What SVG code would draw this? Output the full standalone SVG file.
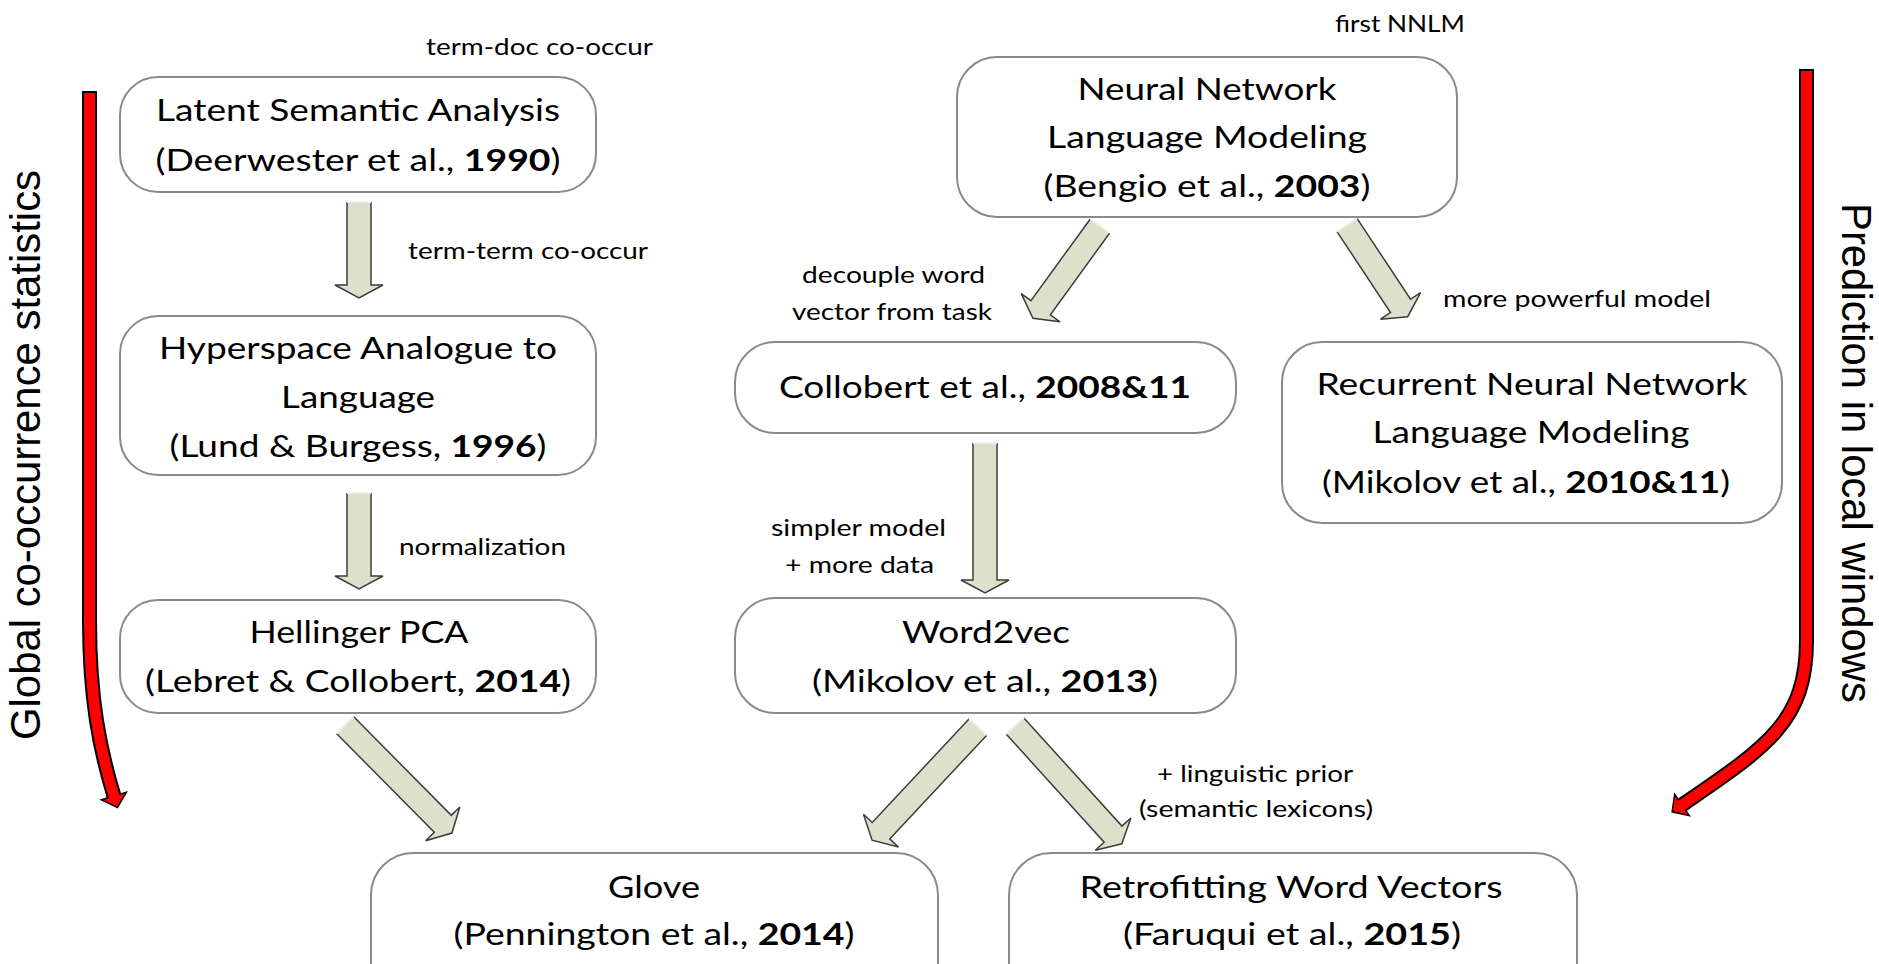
<svg xmlns="http://www.w3.org/2000/svg" width="1879" height="964" viewBox="0 0 1879 964">
  <style>
    .box { fill: #ffffff; stroke: #8a8a8a; stroke-width: 2; }
    .n { font-family: Lato, "Liberation Sans", sans-serif; font-size: 31px; fill: #000; text-anchor: middle; }
    .b { font-weight: 700; }
    .lbl { font-family: Lato, "Liberation Sans", sans-serif; font-size: 24px; fill: #000; }
    .side { font-family: "Liberation Sans", Arial, sans-serif; font-size: 42px; fill: #000; text-anchor: middle; }
    .afill { fill: #dde0cb; }
    .aedge { fill: none; stroke: #3c3c3c; stroke-width: 1.5; stroke-linejoin: miter; }
    .atail { fill: none; stroke: #eef0e4; stroke-width: 2; }
    .rout { fill: none; stroke: #000; stroke-width: 15; }
    .rin { fill: none; stroke: #ff0000; stroke-width: 11; }
    .rhead { fill: #ff0000; stroke: #000; stroke-width: 1.5; stroke-linejoin: miter; }
  </style>

  <!-- side captions -->
  <text class="side" transform="translate(40,455) rotate(-90)" textLength="570" lengthAdjust="spacingAndGlyphs">Global co-occurrence statistics</text>
  <text class="side" transform="translate(1842,453) rotate(90)" textLength="500" lengthAdjust="spacingAndGlyphs">Prediction in local windows</text>

  <!-- red trend arrows -->
  <g id="trend-left">
    <path class="rout" d="M89.5,91 V620 C89.5,700 100,750 114,796"/>
    <polygon class="rhead" points="101.6,799.8 126.4,792.2 117.5,807.5"/>
    <path class="rin" d="M89.5,93 V620 C89.5,700 100,750 114,796 L114.9,798.9"/>
  </g>
  <g id="trend-right">
    <path class="rout" d="M1806.5,69 V640 C1806.5,720 1770,745 1682,805"/>
    <polygon class="rhead" points="1689.3,815.7 1674.7,794.3 1672.1,811.8"/>
    <path class="rin" d="M1806.5,71 V640 C1806.5,720 1770,745 1682,805 L1679.5,806.7"/>
  </g>

  <!-- nodes -->
  <g id="lsa">
    <rect class="box" x="120" y="77" width="476" height="115" rx="38"/>
    <text class="n" x="358" y="121" textLength="404" lengthAdjust="spacingAndGlyphs">Latent Semantic Analysis</text>
    <text class="n" x="358" y="171" textLength="405" lengthAdjust="spacingAndGlyphs">(Deerwester et al., <tspan class="b">1990</tspan>)</text>
  </g>
  <g id="hal">
    <rect class="box" x="120" y="316" width="476" height="159" rx="38"/>
    <text class="n" x="358" y="359" textLength="398" lengthAdjust="spacingAndGlyphs">Hyperspace Analogue to</text>
    <text class="n" x="358" y="408" textLength="154" lengthAdjust="spacingAndGlyphs">Language</text>
    <text class="n" x="358" y="457" textLength="377" lengthAdjust="spacingAndGlyphs">(Lund &amp; Burgess, <tspan class="b">1996</tspan>)</text>
  </g>
  <g id="hellinger">
    <rect class="box" x="120" y="600" width="476" height="113" rx="38"/>
    <text class="n" x="359" y="643" textLength="219" lengthAdjust="spacingAndGlyphs">Hellinger PCA</text>
    <text class="n" x="358" y="692" textLength="426" lengthAdjust="spacingAndGlyphs">(Lebret &amp; Collobert, <tspan class="b">2014</tspan>)</text>
  </g>
  <g id="nnlm">
    <rect class="box" x="957" y="57" width="500" height="160" rx="40"/>
    <text class="n" x="1207" y="100" textLength="259" lengthAdjust="spacingAndGlyphs">Neural Network</text>
    <text class="n" x="1207" y="148" textLength="320" lengthAdjust="spacingAndGlyphs">Language Modeling</text>
    <text class="n" x="1207" y="197" textLength="327" lengthAdjust="spacingAndGlyphs">(Bengio et al., <tspan class="b">2003</tspan>)</text>
  </g>
  <g id="collobert">
    <rect class="box" x="735" y="342" width="501" height="91" rx="40"/>
    <text class="n" x="985" y="398" textLength="412" lengthAdjust="spacingAndGlyphs">Collobert et al., <tspan class="b">2008&amp;11</tspan></text>
  </g>
  <g id="rnnlm">
    <rect class="box" x="1282" y="342" width="500" height="181" rx="40"/>
    <text class="n" x="1532" y="395" textLength="431" lengthAdjust="spacingAndGlyphs">Recurrent Neural Network</text>
    <text class="n" x="1531" y="443" textLength="317" lengthAdjust="spacingAndGlyphs">Language Modeling</text>
    <text class="n" x="1526" y="493" textLength="408" lengthAdjust="spacingAndGlyphs">(Mikolov et al., <tspan class="b">2010&amp;11</tspan>)</text>
  </g>
  <g id="word2vec">
    <rect class="box" x="735" y="598" width="501" height="115" rx="40"/>
    <text class="n" x="986" y="643" textLength="168" lengthAdjust="spacingAndGlyphs">Word2vec</text>
    <text class="n" x="985" y="692" textLength="346" lengthAdjust="spacingAndGlyphs">(Mikolov et al., <tspan class="b">2013</tspan>)</text>
  </g>
  <g id="glove">
    <rect class="box" x="371" y="853" width="567" height="170" rx="42"/>
    <text class="n" x="654" y="898" textLength="92" lengthAdjust="spacingAndGlyphs">Glove</text>
    <text class="n" x="654" y="945" textLength="401" lengthAdjust="spacingAndGlyphs">(Pennington et al., <tspan class="b">2014</tspan>)</text>
  </g>
  <g id="retrofitting">
    <rect class="box" x="1009" y="853" width="568" height="170" rx="42"/>
    <text class="n" x="1291" y="898" textLength="423" lengthAdjust="spacingAndGlyphs">Retrofitting Word Vectors</text>
    <text class="n" x="1292" y="945" textLength="338" lengthAdjust="spacingAndGlyphs">(Faruqui et al., <tspan class="b">2015</tspan>)</text>
  </g>

  <!-- block arrows: local frame has the tail at the origin, pointing along +y -->
  <g id="connectors">
    <g transform="translate(359,202)">
      <path class="afill" d="M-12,0 H12 V83 H24 L0,96 L-24,83 H-12 Z"/>
      <path class="aedge" d="M12,0 V83 H24 L0,96 L-24,83 H-12 V0"/>
      <path class="atail" d="M-12,0 H12"/>
    </g>
    <g transform="translate(359,493)">
      <path class="afill" d="M-12,0 H12 V83 H24 L0,96 L-24,83 H-12 Z"/>
      <path class="aedge" d="M12,0 V83 H24 L0,96 L-24,83 H-12 V0"/>
      <path class="atail" d="M-12,0 H12"/>
    </g>
    <g transform="translate(985,443)">
      <path class="afill" d="M-12,0 H12 V137 H24 L0,150 L-24,137 H-12 Z"/>
      <path class="aedge" d="M12,0 V137 H24 L0,150 L-24,137 H-12 V0"/>
      <path class="atail" d="M-12,0 H12"/>
    </g>
    <g transform="translate(1100,226) rotate(36)">
      <path class="afill" d="M-12,0 H12 V101 H24 L0,114 L-24,101 H-12 Z"/>
      <path class="aedge" d="M12,0 V101 H24 L0,114 L-24,101 H-12 V0"/>
      <path class="atail" d="M-12,0 H12"/>
    </g>
    <g transform="translate(1347,225) rotate(-33.5)">
      <path class="afill" d="M-12,0 H12 V97 H24 L0,110 L-24,97 H-12 Z"/>
      <path class="aedge" d="M12,0 V97 H24 L0,110 L-24,97 H-12 V0"/>
      <path class="atail" d="M-12,0 H12"/>
    </g>
    <g transform="translate(345,725) rotate(-44.7)">
      <path class="afill" d="M-12,0 H12 V139 H24 L0,152 L-24,139 H-12 Z"/>
      <path class="aedge" d="M12,0 V139 H24 L0,152 L-24,139 H-12 V0"/>
      <path class="atail" d="M-12,0 H12"/>
    </g>
    <g transform="translate(978,727) rotate(43.1)">
      <path class="afill" d="M-12,0 H12 V142 H24 L0,155 L-24,142 H-12 Z"/>
      <path class="aedge" d="M12,0 V142 H24 L0,155 L-24,142 H-12 V0"/>
      <path class="atail" d="M-12,0 H12"/>
    </g>
    <g transform="translate(1015,726) rotate(-42.2)">
      <path class="afill" d="M-12,0 H12 V146 H24 L0,159 L-24,146 H-12 Z"/>
      <path class="aedge" d="M12,0 V146 H24 L0,159 L-24,146 H-12 V0"/>
      <path class="atail" d="M-12,0 H12"/>
    </g>
  </g>

  <!-- connector labels -->
  <g id="labels">
    <text class="lbl" x="426" y="55" textLength="227" lengthAdjust="spacingAndGlyphs">term-doc co-occur</text>
    <text class="lbl" x="408" y="259" textLength="240" lengthAdjust="spacingAndGlyphs">term-term co-occur</text>
    <text class="lbl" x="399" y="555" textLength="167" lengthAdjust="spacingAndGlyphs">normalization</text>
    <text class="lbl" x="1335" y="32" textLength="130" lengthAdjust="spacingAndGlyphs">first NNLM</text>
    <text class="lbl" x="802" y="283" textLength="183" lengthAdjust="spacingAndGlyphs">decouple word</text>
    <text class="lbl" x="792" y="320" textLength="200" lengthAdjust="spacingAndGlyphs">vector from task</text>
    <text class="lbl" x="1443" y="307" textLength="268" lengthAdjust="spacingAndGlyphs">more powerful model</text>
    <text class="lbl" x="771" y="536" textLength="175" lengthAdjust="spacingAndGlyphs">simpler model</text>
    <text class="lbl" x="785" y="573" textLength="149" lengthAdjust="spacingAndGlyphs">+ more data</text>
    <text class="lbl" x="1157" y="782" textLength="196" lengthAdjust="spacingAndGlyphs">+ linguistic prior</text>
    <text class="lbl" x="1139" y="817" textLength="234" lengthAdjust="spacingAndGlyphs">(semantic lexicons)</text>
  </g>
</svg>
